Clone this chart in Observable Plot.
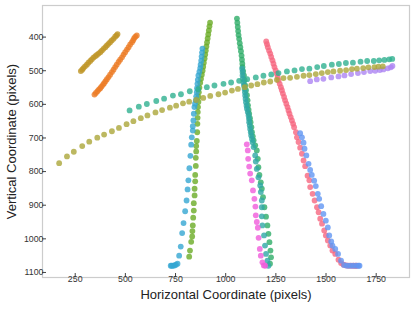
<!DOCTYPE html>
<html><head><meta charset="utf-8">
<script src="https://cdn.jsdelivr.net/npm/d3@7"></script>
<script src="https://cdn.jsdelivr.net/npm/@observablehq/plot@0.6"></script>
<style>
html,body{margin:0;padding:0;background:#fff;}
</style>
</head><body><div id="chart"></div>
<script>
// Tick values and axis titles
const xTicks = [250, 500, 750, 1000, 1250, 1500, 1750];
const yTicks = [400, 500, 600, 700, 800, 900, 1000, 1100];
const xTitle = "Horizontal Coordinate (pixels)";
const yTitle = "Vertical Coordinate (pixels)";

// Series names and colours (drawing order)
const seriesNames = ["Track 1", "Track 2", "Track 3", "Track 4", "Track 5", "Track 6", "Track 7", "Track 8", "Track 9", "Track 10", "Track 11", "Track 12"];
const seriesColors = ["#f6677f", "#ec7c26", "#bf9628", "#6aab26", "#2ead68", "#6196f3", "#35a6d2", "#2fa8a6", "#f05bdb", "#ad85f2", "#aba63a", "#2fb090"];

// [x, y] pairs per series
const pink = [[1202,413],[1206,421],[1210,430],[1216,440],[1222,449],[1227,459],[1233,469],[1238,479],[1243,489],[1249,499],[1255,509],[1259,519],[1263,529],[1269,539],[1275,549],[1280,558],[1285,568],[1291,578],[1296,588],[1302,598],[1308,608],[1313,618],[1318,628],[1324,638],[1330,648],[1336,658],[1341,668],[1350,683],[1355,698],[1363,712],[1371,729],[1380,747],[1388,767],[1396,784],[1408,812],[1417,826],[1421,846],[1433,866],[1443,886],[1455,906],[1463,921],[1471,940],[1480,955],[1491,975],[1499,990],[1509,1005],[1521,1020],[1532,1035],[1546,1045],[1562,1062],[1575,1072],[1587,1077],[1600,1079],[1612,1080],[1625,1080],[1637,1080],[1646,1080],[1654,1080]];
const orange = [[346,571],[353,566],[361,561],[368,556],[375,552],[381,547],[388,542],[394,537],[401,531],[408,525],[416,519],[424,512],[433,504],[441,497],[449,489],[457,482],[466,474],[474,467],[483,460],[491,452],[499,445],[508,437],[516,430],[524,422],[533,415],[539,409],[544,403],[550,399],[557,395]];
const gold = [[278,501],[285,497],[291,492],[299,487],[308,482],[316,476],[325,471],[333,466],[341,461],[350,457],[358,453],[366,449],[375,445],[383,440],[391,435],[400,430],[408,425],[416,420],[424,415],[432,410],[441,405],[449,399],[456,395],[461,391]];
const lime = [[922,357],[919,368],[916,380],[913,392],[910,404],[907,416],[904,428],[901,440],[898,452],[895,464],[891,476],[888,488],[885,500],[881,512],[877,524],[873,536],[869,550],[866,564],[864,578],[864,593],[862,608],[861,623],[860,640],[859,658],[858,683],[856,709],[853,724],[853,740],[851,759],[851,783],[848,810],[848,829],[845,851],[845,871],[841,894],[841,916],[838,937],[836,960],[834,977],[833,993],[828,1009],[822,1035],[818,1053]];
const green = [[1056,345],[1058,357],[1060,370],[1062,382],[1064,394],[1067,405],[1070,418],[1073,430],[1076,442],[1079,455],[1081,467],[1083,479],[1084,489],[1087,501],[1091,514],[1094,528],[1097,544],[1101,558],[1106,573],[1109,588],[1111,603],[1114,616],[1117,628],[1121,641],[1124,653],[1128,668],[1131,683],[1135,695],[1139,707],[1147,722],[1155,737],[1160,762],[1163,787],[1168,810],[1175,832],[1180,851],[1186,876],[1193,906],[1201,934],[1208,960],[1213,985],[1218,1010],[1223,1035],[1226,1055],[1221,1074]];
const blue = [[1371,686],[1380,698],[1388,714],[1393,732],[1402,752],[1413,777],[1421,795],[1429,810],[1441,827],[1449,843],[1459,866],[1466,881],[1476,903],[1487,926],[1499,946],[1509,966],[1516,990],[1526,1008],[1532,1020],[1546,1030],[1560,1045],[1575,1065],[1590,1078],[1605,1080],[1620,1080],[1635,1080],[1650,1080],[1662,1080],[1667,1080]];
const cyan = [[884,434],[882,446],[880,458],[878,470],[875,482],[873,492],[869,503],[864,514],[861,527],[859,539],[857,552],[856,564],[853,576],[851,588],[847,598],[844,608],[841,628],[839,648],[836,665],[836,678],[831,698],[828,720],[824,753],[819,790],[814,826],[810,853],[805,886],[798,918],[790,953],[783,983],[776,1023],[768,1050],[760,1074],[752,1077],[745,1079],[738,1080],[731,1080],[726,1080]];
const teal = [[1082,494],[1084,504],[1084,514],[1086,524],[1088,534],[1091,544],[1094,554],[1096,564],[1097,574],[1099,584],[1101,594],[1104,604],[1106,613],[1110,623],[1114,633],[1116,643],[1117,653],[1120,663],[1122,673],[1125,683],[1127,693],[1131,703],[1134,713],[1139,727],[1147,752],[1150,770],[1155,792],[1163,817],[1172,841],[1175,861],[1180,886],[1180,906],[1180,933],[1183,960],[1191,990],[1196,1020],[1201,1045],[1208,1065],[1213,1080]];
const magenta = [[1105,719],[1110,737],[1112,762],[1117,785],[1122,806],[1130,826],[1136,856],[1143,881],[1148,904],[1150,930],[1155,950],[1160,967],[1164,997],[1170,1030],[1175,1050],[1183,1070],[1190,1079],[1197,1080]];
const purple = [[1421,531],[1454,526],[1487,524],[1526,520],[1562,517],[1592,514],[1625,510],[1659,507],[1689,504],[1720,501],[1745,500],[1768,498],[1786,496],[1808,493],[1823,490],[1831,486]];
const olive = [[170,775],[209,755],[243,741],[285,724],[320,711],[360,699],[394,690],[433,680],[468,670],[506,659],[540,650],[577,641],[610,633],[650,624],[683,617],[722,610],[753,604],[787,597],[818,592],[853,587],[888,581],[923,575],[964,570],[997,565],[1031,559],[1061,554],[1095,549],[1127,544],[1158,540],[1190,535],[1222,532],[1255,527],[1288,522],[1321,521],[1355,518],[1388,515],[1417,513],[1449,510],[1479,507],[1509,504],[1537,502],[1570,500],[1600,498],[1629,495],[1654,494],[1685,492],[1711,490],[1741,489],[1761,488],[1783,487]];
const seagreen = [[521,618],[567,607],[607,599],[654,590],[693,583],[737,574],[777,570],[821,561],[863,555],[906,549],[944,544],[989,539],[1027,535],[1067,530],[1107,525],[1150,520],[1188,515],[1227,511],[1263,507],[1305,502],[1343,499],[1380,495],[1417,494],[1456,489],[1489,486],[1529,482],[1564,480],[1599,477],[1634,476],[1672,473],[1705,471],[1738,471],[1765,469],[1791,468],[1815,466],[1830,465]];

const tracks = [pink, orange, gold, lime, green, blue, cyan, teal, magenta, purple, olive, seagreen];
const data = tracks.flatMap((t, i) => t.map(([x, y]) => ({x, y, s: seriesNames[i]})));

const font = "'Liberation Sans', Arial, sans-serif";
const chart = Plot.plot({
  width: 415, height: 309,
  marginLeft: 42, marginRight: 6, marginTop: 5, marginBottom: 32,
  style: {fontFamily: font, background: "#fff", overflow: "visible"},
  x: {domain: [87, 1916], label: null},
  y: {domain: [306, 1115], reverse: true, label: null},
  color: {type: "ordinal", domain: seriesNames, range: seriesColors},
  marks: [
    Plot.dot(data, {x: "x", y: "y", fill: "s", r: 2.9, fillOpacity: 0.8, stroke: "none"}),
    Plot.frame({stroke: "#cccccc", strokeWidth: 1.2}),
    Plot.axisX({ticks: xTicks, tickFormat: d3.format("d"), tickSize: -4, tickPadding: 2, fontSize: 8.8, stroke: "#444", fill: "#333", label: null}),
    Plot.axisY({ticks: yTicks, tickFormat: d3.format("d"), tickSize: -4, tickPadding: 3, fontSize: 8.8, stroke: "#444", fill: "#333", label: null}),
    Plot.text([xTitle], {frameAnchor: "bottom", dy: 21, fontSize: 13, fill: "#222", fontFamily: font}),
    Plot.text([yTitle], {frameAnchor: "left", textAnchor: "middle", rotate: -90, dx: -31, fontSize: 13, fill: "#222", fontFamily: font})
  ]
});
document.getElementById("chart").appendChild(chart);
</script>
</body></html>
